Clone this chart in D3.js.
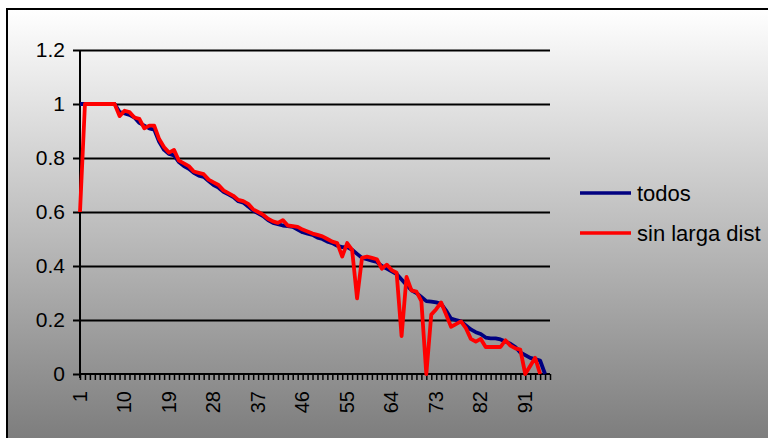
<!DOCTYPE html>
<html>
<head>
<meta charset="utf-8">
<script src="https://cdn.jsdelivr.net/npm/d3@7"></script>
<style>
  html, body { margin: 0; padding: 0; background: #ffffff; }
  svg { display: block; font-family: "Liberation Sans", Arial, sans-serif; }
</style>
</head>
<body>
<svg id="chart" width="768" height="438"></svg>
<script>
// ---- data ----
const categoryCount = 96;
const xTickLabels = [1, 10, 19, 28, 37, 46, 55, 64, 73, 82, 91];
const yTickValues = [0, 0.2, 0.4, 0.6, 0.8, 1, 1.2];
const seriesNames = ["todos", "sin larga dist"];

const todos = [
  1.0, 1.0, 1.0, 1.0, 1.0, 1.0, 1.0, 1.0, 0.97, 0.965,
  0.96, 0.95, 0.93, 0.92, 0.91, 0.905, 0.86, 0.83, 0.815, 0.81,
  0.785, 0.77, 0.76, 0.745, 0.735, 0.73, 0.715, 0.70, 0.69, 0.675,
  0.665, 0.655, 0.64, 0.635, 0.62, 0.605, 0.595, 0.585, 0.57, 0.56,
  0.555, 0.55, 0.548, 0.545, 0.535, 0.525, 0.52, 0.515, 0.505, 0.50,
  0.49, 0.485, 0.475, 0.47, 0.47, 0.46, 0.445, 0.43, 0.425, 0.42,
  0.415, 0.40, 0.39, 0.38, 0.37, 0.35, 0.33, 0.31, 0.30, 0.285,
  0.27, 0.268, 0.265, 0.26, 0.235, 0.205, 0.20, 0.195, 0.18, 0.165,
  0.155, 0.148, 0.135, 0.132, 0.132, 0.128, 0.12, 0.112, 0.10, 0.08,
  0.07, 0.06, 0.055, 0.05, 0.0
];

const sinLargaDist = [
  0.60, 1.0, 1.0, 1.0, 1.0, 1.0, 1.0, 1.0, 0.955, 0.975,
  0.97, 0.95, 0.945, 0.91, 0.92, 0.92, 0.87, 0.84, 0.82, 0.83,
  0.79, 0.78, 0.77, 0.75, 0.745, 0.74, 0.72, 0.71, 0.70, 0.68,
  0.67, 0.66, 0.645, 0.64, 0.63, 0.61, 0.60, 0.59, 0.575, 0.565,
  0.56, 0.57, 0.55, 0.548, 0.545, 0.535, 0.528, 0.52, 0.515, 0.51,
  0.50, 0.49, 0.485, 0.435, 0.485, 0.46, 0.28, 0.43, 0.435, 0.43,
  0.425, 0.39, 0.405, 0.385, 0.375, 0.14, 0.36, 0.31, 0.305, 0.27,
  0.0, 0.22, 0.24, 0.265, 0.22, 0.175, 0.185, 0.195, 0.17, 0.13,
  0.12, 0.13, 0.10, 0.10, 0.10, 0.10, 0.125, 0.105, 0.095, 0.09,
  0.0, 0.03, 0.06, 0.0
];

const seriesColors = ["#000080", "#ff0000"];

// ---- layout ----
const svg = d3.select("#chart");
const plot = { left: 80, right: 550, top: 50, bottom: 374 };

const defs = svg.append("defs");
const grad = defs.append("linearGradient")
  .attr("id", "bg").attr("x1", 0).attr("y1", 0).attr("x2", 0).attr("y2", 1);
grad.append("stop").attr("offset", "0%").attr("stop-color", "#ffffff");
grad.append("stop").attr("offset", "100%").attr("stop-color", "#7a7a7a");

svg.append("rect")
  .attr("x", 7).attr("y", 9).attr("width", 800).attr("height", 440)
  .attr("fill", "url(#bg)")
  .attr("stroke", "#000").attr("stroke-width", 2);

const x = d3.scaleLinear().domain([1, categoryCount]).range([plot.left, plot.right]);
const y = d3.scaleLinear().domain([0, 1.2]).range([plot.bottom, plot.top]);

// gridlines
svg.append("g")
  .attr("transform", `translate(${plot.left},0)`)
  .call(d3.axisRight(y).tickValues(yTickValues.filter(v => v > 0))
        .tickSize(plot.right - plot.left).tickFormat(""))
  .call(g => g.select(".domain").remove())
  .call(g => g.selectAll("line").attr("stroke", "#000").attr("stroke-width", 2));

// y axis
svg.append("g")
  .attr("transform", `translate(${plot.left},0)`)
  .call(d3.axisLeft(y).tickValues(yTickValues).tickSize(7).tickSizeOuter(0)
        .tickFormat(d => String(+d.toFixed(1))))
  .call(g => g.select(".domain").attr("stroke", "#000").attr("stroke-width", 2)
        .attr("d", `M0,${plot.top}V${plot.bottom + 4}`))
  .call(g => g.selectAll("line").attr("stroke", "#000").attr("stroke-width", 2))
  .call(g => g.selectAll("text").attr("x", -15).attr("font-size", 21).attr("fill", "#000"));

// x axis
const cats = d3.range(1, categoryCount + 1);
svg.append("g")
  .attr("transform", `translate(0,${plot.bottom})`)
  .call(d3.axisBottom(x).tickValues(cats).tickSize(6).tickSizeOuter(0)
        .tickFormat(d => xTickLabels.includes(d) ? String(d) : ""))
  .call(g => g.select(".domain").attr("stroke", "#000").attr("stroke-width", 2)
        .attr("d", `M${plot.left},0H${plot.right}`))
  .call(g => g.selectAll("line").attr("stroke", "#000").attr("stroke-width", 1.5))
  .call(g => g.selectAll("text")
        .attr("transform", "rotate(-90)")
        .attr("text-anchor", "end")
        .attr("x", -17).attr("y", -1).attr("dy", "0.35em")
        .attr("font-size", 20).attr("fill", "#000"));

// lines
const line = d3.line().x((d, i) => x(i + 1)).y(d => y(d));
[todos, sinLargaDist].forEach((data, k) => {
  svg.append("path")
    .datum(data)
    .attr("fill", "none")
    .attr("stroke", seriesColors[k])
    .attr("stroke-width", 3.8)
    .attr("stroke-linejoin", "round")
    .attr("d", line);
});

// legend
const legend = svg.append("g");
seriesNames.forEach((name, k) => {
  const ly = 193 + k * 40;
  legend.append("line")
    .attr("x1", 580).attr("x2", 631).attr("y1", ly).attr("y2", ly)
    .attr("stroke", seriesColors[k]).attr("stroke-width", 3.5);
  legend.append("text")
    .attr("x", 637).attr("y", ly).attr("dy", "0.35em")
    .attr("font-size", 22).attr("fill", "#000")
    .text(name);
});
</script>
</body>
</html>
